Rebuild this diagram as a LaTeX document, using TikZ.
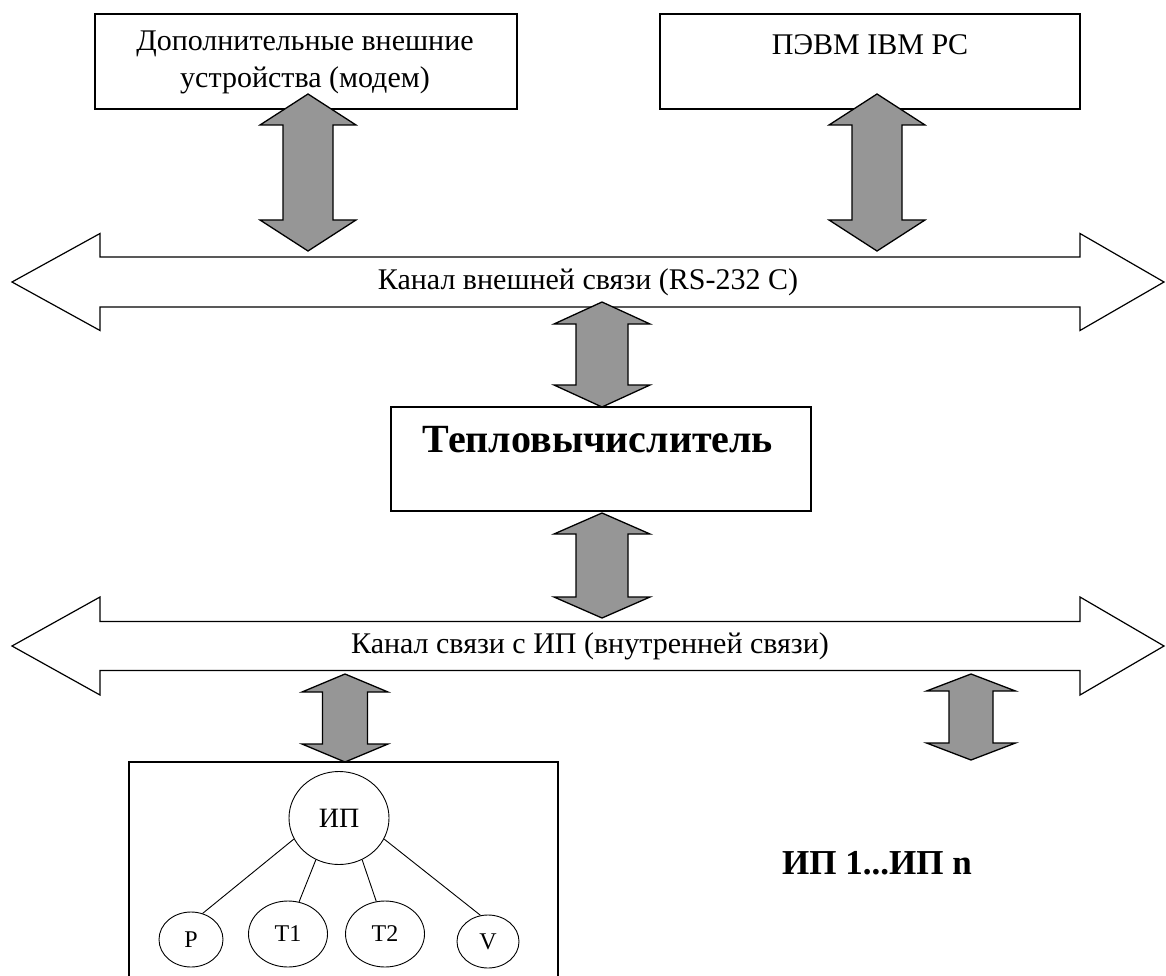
\documentclass[tikz,border=0pt]{standalone}
\usepackage{fontspec}
\setmainfont{Liberation Serif}
\usetikzlibrary{shapes.geometric}

% fill colour of the small two-way arrows
\definecolor{arrowgray}{RGB}{150,150,150}

\tikzset{
  blockbox/.style={draw=black, line width=1.3pt, fill=white, inner sep=0pt},
  plain/.style={font=\fontsize{30}{37}\selectfont, align=center, inner sep=0pt},
  heavy/.style={font=\fontsize{40}{46}\selectfont\bfseries, inner sep=0pt},
  sensor/.style={ellipse, draw=black, line width=0.9pt, inner sep=0pt,
                 font=\fontsize{24}{28}\selectfont},
  twoway/.style={draw=black, line width=1.3pt, fill=arrowgray, line join=miter},
  channel/.style={draw=black, line width=1.2pt, fill=white, line join=miter},
  link/.style={draw=black, line width=0.9pt}
}

% vertical two-way block arrow: centre x, top tip y, bottom tip y,
% half head width, half shaft width, head length
\newcommand{\vtwoway}[6]{%
  \path[twoway] (#1,#2) -- (#1+#4,#2+#6) -- (#1+#5,#2+#6) -- (#1+#5,#3-#6)
    -- (#1+#4,#3-#6) -- (#1,#3) -- (#1-#4,#3-#6) -- (#1-#5,#3-#6)
    -- (#1-#5,#2+#6) -- (#1-#4,#2+#6) -- cycle;}

% horizontal two-way channel across the page: centre y, half head height, half shaft height
\newcommand{\hchannel}[3]{%
  \path[channel] (12,#1) -- (100,#1-#2) -- (100,#1-#3) -- (1080,#1-#3)
    -- (1080,#1-#2) -- (1164,#1) -- (1080,#1+#2) -- (1080,#1+#3)
    -- (100,#1+#3) -- (100,#1+#2) -- cycle;}

\begin{document}
\begin{tikzpicture}[x=1pt, y=-1pt]
\useasboundingbox (0,0) rectangle (1166,976);
\clip (0,0) rectangle (1166,976);
\fill[white] (0,0) rectangle (1166,976);

% top devices
\node[blockbox, minimum width=422, minimum height=95] (modem) at (306,61.5) {};
\node[plain] (modemtxt) at (305,62) {Дополнительные внешние\\устройства (модем)};
\node[blockbox, minimum width=420, minimum height=95] (pc) at (870,61.5) {};
\node[plain] (pctxt) at (870,45) {ПЭВМ IBM PC};

% external channel
\hchannel{282}{48.5}{25}
\node[plain] (extlbl) at (588,282) {Канал внешней связи (RS-232 C)};

% heat calculator
\node[blockbox, minimum width=420, minimum height=104] (calc) at (601,459) {};
\node[heavy] (calctxt) at (598,440) {Тепловычислитель};

% internal channel
\hchannel{646}{49}{24.5}
\node[plain] (intlbl) at (590,646) {Канал связи с ИП (внутренней связи)};

% two-way links between blocks and channels
\vtwoway{308}{94}{251}{48}{25}{31}
\vtwoway{877}{94}{251}{48}{25}{31}
\vtwoway{602}{302}{407}{48}{26}{22}
\vtwoway{602}{513}{618}{48}{26}{21}
\vtwoway{345}{674}{762}{43}{22.5}{18}
\vtwoway{971}{674}{760}{44.5}{22}{17}

% measuring unit with its sensors
\node[blockbox, fill=none, minimum width=429, minimum height=260] (ipbox) at (343.5,892) {};
\node[sensor, minimum width=100, minimum height=93, font=\fontsize{28}{32}\selectfont] (ip) at (339,818) {ИП};
\node[sensor, minimum width=64, minimum height=55] (p) at (191,939.5) {P};
\node[sensor, minimum width=79, minimum height=66] (t1) at (288,934) {T1};
\node[sensor, minimum width=79, minimum height=66] (t2) at (385,934) {T2};
\node[sensor, minimum width=62, minimum height=53] (v) at (488,941.5) {V};
\draw[link] (ip.205) -- (p.66);
\draw[link] (ip.241) -- (t1.71);
\draw[link] (ip.299) -- (t2.105);
\draw[link] (ip.335) -- (v.106);

\node[heavy, font=\fontsize{35}{40}\selectfont\bfseries] (many) at (877,863) {ИП 1...ИП n};
\end{tikzpicture}
\end{document}
